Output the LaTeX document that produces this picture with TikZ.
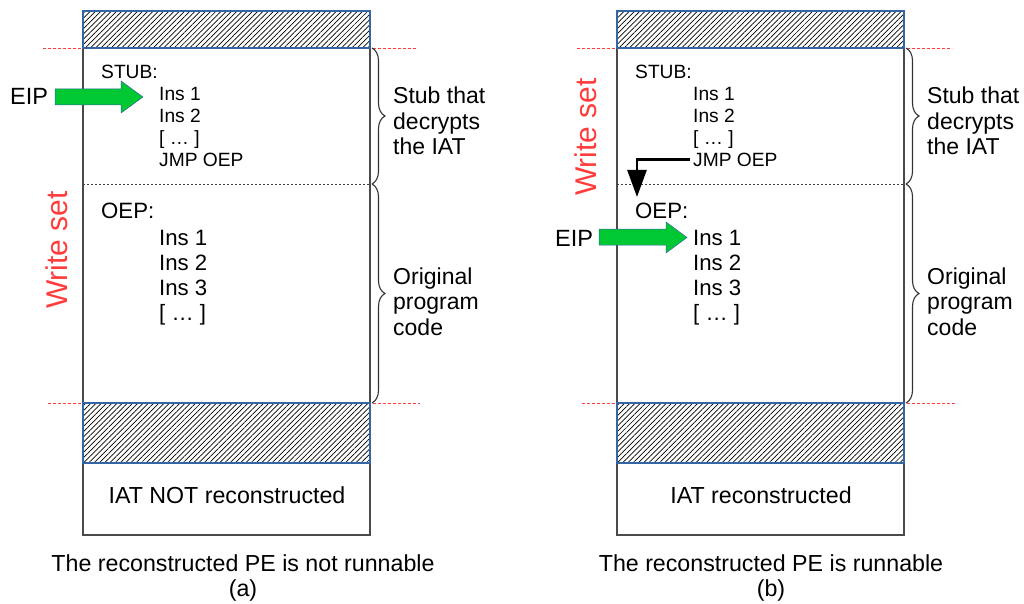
\documentclass[tikz,border=0pt]{standalone}
\usepackage{fontspec}
\setmainfont{Liberation Sans}
\usetikzlibrary{patterns.meta,decorations.pathreplacing,arrows.meta}
\definecolor{boxgray}{HTML}{4A4A4A}
\definecolor{hatchblue}{HTML}{3465A4}
\definecolor{eipgreen}{HTML}{00C832}
\definecolor{wsred}{HTML}{FF3B3B}
\tikzset{
  membox/.style={draw=boxgray, line width=1.3pt},
  hatchbox/.style={draw=hatchblue, line width=1.2pt, pattern={Lines[angle=45,distance=3.7pt,line width=0.7pt]}, pattern color=black},
  reddash/.style={draw=wsred, line width=0.9pt, dash pattern=on 3pt off 2pt},
  blackdot/.style={draw=black!75, line width=1pt, dash pattern=on 2pt off 2pt},
  brc/.style={draw=black!80, line width=1.1pt, decorate, decoration={brace, amplitude=13pt}},
  txt/.style={inner sep=0pt, anchor=base west},
  stubtxt/.style={txt, font=\fontsize{19.2}{21}\selectfont},
  codetxt/.style={txt, font=\fontsize{22.2}{24}\selectfont},
  lbltxt/.style={txt, font=\fontsize{23}{25}\selectfont},
  captxt/.style={inner sep=0pt, anchor=base, font=\fontsize{23.2}{25}\selectfont},
  wstxt/.style={inner sep=0pt, rotate=90, text=wsred, font=\fontsize{30}{32}\selectfont},
  greenarr/.style={fill=eipgreen, draw=hatchblue, line width=0.5pt},
  jmparr/.style={line width=2.6pt, -{Triangle[length=27pt,width=19pt]}}
}
\begin{document}
\begin{tikzpicture}[x=1pt,y=-1pt]
\useasboundingbox (0,0) rectangle (1024,604);
% ================= Panel (a) =================
\draw[reddash] (43,48) -- (418,48);
\draw[reddash] (48,403) -- (420,403);
\draw[membox] (83,11) rectangle (370,535);
\draw[hatchbox] (83,11) rectangle (370,48);
\draw[hatchbox] (83,403) rectangle (370,463);
\draw[blackdot] (83,184) -- (370,184);
\draw[brc] (372,48) -- (372,184);
\draw[brc] (372,184) -- (372,403);
\node[stubtxt] (a-stub) at (101,79) {STUB:};
\node[stubtxt] (a-s1) at (159,101) {Ins 1};
\node[stubtxt] (a-s2) at (159,122.8) {Ins 2};
\node[stubtxt] (a-s3) at (159,144.6) {[ … ]};
\node[stubtxt] (a-jmp) at (159,166.4) {JMP OEP};
\node[codetxt] (a-oep) at (101,218.5) {OEP:};
\node[codetxt] (a-c1) at (159,245) {Ins 1};
\node[codetxt] (a-c2) at (159,270) {Ins 2};
\node[codetxt] (a-c3) at (159,295) {Ins 3};
\node[codetxt] (a-c4) at (159,320) {[ … ]};
\node[lbltxt] (a-l1) at (393,104) {Stub that};
\node[lbltxt] (a-l2) at (393,129.5) {decrypts};
\node[lbltxt] (a-l3) at (393,155) {the IAT};
\node[lbltxt] (a-o1) at (393,284) {Original};
\node[lbltxt] (a-o2) at (393,309.5) {program};
\node[lbltxt] (a-o3) at (393,335) {code};
\node[lbltxt, font=\fontsize{23.5}{25}\selectfont] (a-eip) at (10,105) {EIP};
\draw[greenarr] (55,89) -- (121,89) -- (121,81) -- (143,97) -- (121,113) -- (121,105) -- (55,105) -- cycle;
\node[wstxt] (a-ws) at (57,250) {Write set};
\node[captxt] (a-iat) at (227,503) {IAT NOT reconstructed};
\node[captxt] (a-cap) at (243,571) {The reconstructed PE is not runnable};
\node[captxt] (a-lab) at (243,596) {(a)};
% ================= Panel (b) =================
\draw[reddash] (577,48) -- (952,48);
\draw[reddash] (582,403) -- (955,403);
\draw[membox] (617,11) rectangle (904,535);
\draw[hatchbox] (617,11) rectangle (904,48);
\draw[hatchbox] (617,403) rectangle (904,463);
\draw[blackdot] (617,184) -- (904,184);
\draw[brc] (906,48) -- (906,184);
\draw[brc] (906,184) -- (906,403);
\node[stubtxt] (b-stub) at (635,79) {STUB:};
\node[stubtxt] (b-s1) at (693,101) {Ins 1};
\node[stubtxt] (b-s2) at (693,122.8) {Ins 2};
\node[stubtxt] (b-s3) at (693,144.6) {[ … ]};
\node[stubtxt] (b-jmp) at (693,166.4) {JMP OEP};
\node[codetxt] (b-oep) at (635,218.5) {OEP:};
\node[codetxt] (b-c1) at (693,245) {Ins 1};
\node[codetxt] (b-c2) at (693,270) {Ins 2};
\node[codetxt] (b-c3) at (693,295) {Ins 3};
\node[codetxt] (b-c4) at (693,320) {[ … ]};
\node[lbltxt] (b-l1) at (927,104) {Stub that};
\node[lbltxt] (b-l2) at (927,129.5) {decrypts};
\node[lbltxt] (b-l3) at (927,155) {the IAT};
\node[lbltxt] (b-o1) at (927,284) {Original};
\node[lbltxt] (b-o2) at (927,309.5) {program};
\node[lbltxt] (b-o3) at (927,335) {code};
\node[lbltxt, font=\fontsize{23.5}{25}\selectfont] (b-eip) at (555,246) {EIP};
\draw[greenarr] (599,229) -- (666,229) -- (666,222) -- (687,237.5) -- (666,253) -- (666,245) -- (599,245) -- cycle;
\node[wstxt] (b-ws) at (586,137) {Write set};
\coordinate (b-jt) at (637,197);
\draw[jmparr] ([xshift=-3pt]b-jmp.west) -| (b-jt);
\node[captxt] (b-iat) at (761,503) {IAT reconstructed};
\node[captxt] (b-cap) at (771,571) {The reconstructed PE is runnable};
\node[captxt] (b-lab) at (771,596) {(b)};
\end{tikzpicture}
\end{document}
